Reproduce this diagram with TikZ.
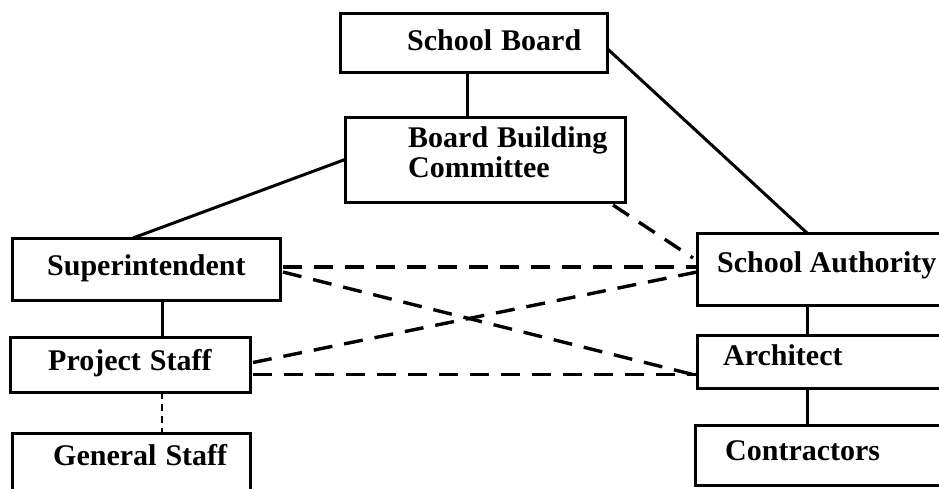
\documentclass[tikz,border=0pt]{standalone}
\usepackage{fontspec}
\setmainfont{Liberation Serif}
\usetikzlibrary{calc}
\newcommand{\wgap}{\hspace{0.3em}}
\begin{document}
\begin{tikzpicture}[x=1pt,y=-1pt,
  box/.style={draw, line width=3pt, rectangle, inner sep=0pt, outer sep=0pt, anchor=north west},
  lbl/.style={anchor=base west, inner sep=0pt, font=\fontsize{30}{30}\selectfont\bfseries},
  solidlink/.style={line width=3pt},
  dashlink/.style={line width=3.4pt, dash pattern=on 19pt off 12pt},
  dotlink/.style={line width=2.6pt, dash pattern=on 7pt off 5pt}]
\useasboundingbox (0,0) rectangle (939,488);
\fill[white] (0,0) rectangle (939,488);
\begin{scope}
\clip (0,0) rectangle (939,488);
% boxes
\node[box, minimum width=267pt, minimum height=59pt] (sb)   at (340,13)  {};
\node[box, minimum width=280pt, minimum height=85pt] (bbc)  at (345,117) {};
\node[box, minimum width=268pt, minimum height=62pt] (sup)  at (12,238)  {};
\node[box, minimum width=240pt, minimum height=55pt] (ps)   at (10,337)  {};
\node[box, minimum width=238pt, minimum height=70pt] (gs)   at (12,433)  {};
\node[box, minimum width=280pt, minimum height=72pt] (sa)   at (697,233) {};
\node[box, minimum width=280pt, minimum height=53pt] (arch) at (697,335) {};
\node[box, minimum width=282pt, minimum height=60pt] (con)  at (695,425) {};
% labels
\node[lbl] (sbt)   at (407,50)  {School\wgap Board};
\node[lbl] (bbct1) at (408,147) {Board\wgap Building};
\node[lbl] (bbct2) at (408,177) {Committee};
\node[lbl] (supt)  at (47,275)  {Superintendent};
\node[lbl] (pst)   at (48,370)  {Project\wgap Staff};
\node[lbl] (gst)   at (53,465)  {General\wgap Staff};
\node[lbl] (sat)   at (717,272) {School Authority};
\node[lbl] (archt) at (723,365) {Architect};
\node[lbl] (cont)  at (725,460) {Contractors};
% attachment points of the vertical links
\coordinate (sbdown)   at ($(sb.south)+(-6,0)$);
\coordinate (supdown)  at ($(sup.south)+(16,0)$);
\coordinate (psdown)   at ($(ps.south)+(32,0)$);
\coordinate (sadown)   at ($(sa.south west)+(110,0)$);
\coordinate (archdown) at ($(arch.south west)+(110,0)$);
% solid lines of authority
\draw[solidlink] (sbdown) -- (sbdown |- bbc.north);
\draw[solidlink] ($(sb.north east)!0.6!(sb.south east)$) -- ($(sa.north west)+(110,0)$);
\draw[solidlink] ($(bbc.north west)!0.5!(bbc.south west)$) -- ($(sup.north west)+(121,0)$);
\draw[solidlink] (supdown) -- (supdown |- ps.north);
\draw[solidlink] (sadown) -- (sadown |- arch.north);
\draw[solidlink] (archdown) -- (archdown |- con.north);
\draw[dotlink] (psdown) -- (psdown |- gs.north);
% dashed coordination lines
\coordinate (bbcx) at ($(bbc.south east)+(-12,3)$);
\draw[dashlink] (bbcx) -- ($(sa.north west)+(-4,25)$);
\draw[dashlink] ($(sup.east)+(3,-2)$) -- ($(sa.west)+(0,-2)$);
\draw[dashlink] ($(sup.east)+(3,3)$) -- ($(arch.west)+(0,14)$);
\draw[dashlink] ($(ps.east)+(3,-2)$) -- ($(sa.west)+(0,3)$);
\draw[dashlink] ($(ps.east)+(3,10)$) -- ($(arch.west)+(0,13)$);
\end{scope}
\end{tikzpicture}
\end{document}
